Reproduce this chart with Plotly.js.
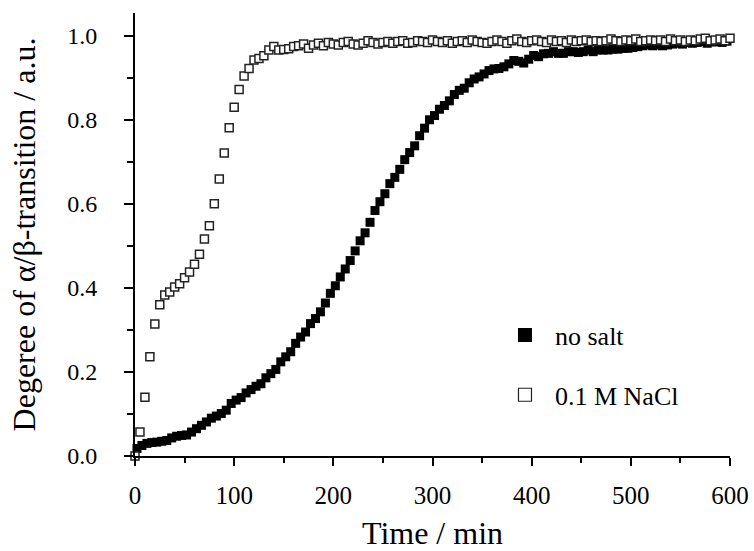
<!DOCTYPE html>
<html>
<head>
<meta charset="utf-8">
<script src="https://cdn.plot.ly/plotly-3.0.1.min.js"></script>
<style>html,body{margin:0;padding:0;background:#fff;}#chart{width:754px;height:551px;}</style>
</head>
<body>
<div id="chart"></div>
<script>
// Time (min) for the "no salt" series
const timeNoSalt = [
  2, 7, 12, 17, 22, 27, 32, 37, 42, 47,
  52, 57, 62, 67, 72, 77, 82, 87, 92, 97,
  102, 107, 112, 117, 122, 127, 132, 137, 142, 147,
  152, 157, 162, 167, 172, 177, 182, 187, 192, 197,
  202, 207, 212, 217, 222, 227, 232, 237, 242, 247,
  252, 257, 262, 267, 272, 277, 282, 287, 292, 297,
  302, 307, 312, 317, 322, 327, 332, 337, 342, 347,
  352, 357, 362, 367, 372, 377, 382, 387, 392, 397,
  402, 407, 412, 417, 422, 427, 432, 437, 442, 447,
  452, 457, 462, 467, 472, 477, 482, 487, 492, 497,
  502, 507, 512, 517, 522, 527, 532, 537, 542, 547,
  552, 557, 562, 567, 572, 577, 582, 587, 592, 597,
  602
];
// Degree of transition, "no salt"
const degreeNoSalt = [
  0.018, 0.025, 0.030, 0.032, 0.033, 0.035, 0.037, 0.043, 0.047, 0.049,
  0.050, 0.057, 0.065, 0.073, 0.081, 0.090, 0.095, 0.101, 0.109, 0.125,
  0.133, 0.139, 0.150, 0.158, 0.166, 0.172, 0.186, 0.196, 0.206, 0.224,
  0.236, 0.248, 0.268, 0.283, 0.295, 0.315, 0.327, 0.343, 0.364, 0.387,
  0.405, 0.426, 0.445, 0.465, 0.488, 0.512, 0.531, 0.556, 0.584, 0.605,
  0.624, 0.648, 0.663, 0.682, 0.705, 0.722, 0.738, 0.762, 0.780, 0.800,
  0.810, 0.825, 0.834, 0.845, 0.860, 0.870, 0.875, 0.888, 0.897, 0.902,
  0.909, 0.917, 0.921, 0.922, 0.926, 0.933, 0.941, 0.939, 0.935, 0.944,
  0.953, 0.950, 0.957, 0.958, 0.962, 0.958, 0.958, 0.962, 0.962, 0.960,
  0.962, 0.966, 0.962, 0.966, 0.966, 0.966, 0.968, 0.968, 0.970, 0.970,
  0.972, 0.974, 0.976, 0.978, 0.976, 0.978, 0.976, 0.978, 0.980, 0.982,
  0.980, 0.984, 0.982, 0.984, 0.986, 0.982, 0.985, 0.986, 0.984, 0.987,
  0.986
];
// Time (min) for the "0.1 M NaCl" series
const timeNaCl = [
  0, 5, 10, 15, 20, 25, 30, 35, 40, 45,
  50, 55, 60, 65, 70, 75, 80, 85, 90, 95,
  100, 105, 110, 115, 120, 125, 130, 135, 140, 145,
  150, 155, 160, 165, 170, 175, 180, 185, 190, 195,
  200, 205, 210, 215, 220, 225, 230, 235, 240, 245,
  250, 255, 260, 265, 270, 275, 280, 285, 290, 295,
  300, 305, 310, 315, 320, 325, 330, 335, 340, 345,
  350, 355, 360, 365, 370, 375, 380, 385, 390, 395,
  400, 405, 410, 415, 420, 425, 430, 435, 440, 445,
  450, 455, 460, 465, 470, 475, 480, 485, 490, 495,
  500, 505, 510, 515, 520, 525, 530, 535, 540, 545,
  550, 555, 560, 565, 570, 575, 580, 585, 590, 595,
  600, 605
];
// Degree of transition, "0.1 M NaCl"
const degreeNaCl = [
  0.000, 0.057, 0.140, 0.236, 0.314, 0.360, 0.383, 0.390, 0.402, 0.410,
  0.424, 0.438, 0.456, 0.480, 0.516, 0.548, 0.600, 0.659, 0.721, 0.781,
  0.830, 0.872, 0.904, 0.922, 0.942, 0.946, 0.952, 0.966, 0.974, 0.966,
  0.967, 0.969, 0.974, 0.976, 0.980, 0.970, 0.978, 0.982, 0.976, 0.984,
  0.980, 0.978, 0.984, 0.986, 0.980, 0.978, 0.982, 0.988, 0.984, 0.980,
  0.984, 0.986, 0.982, 0.986, 0.988, 0.982, 0.984, 0.988, 0.986, 0.984,
  0.990, 0.986, 0.984, 0.988, 0.982, 0.986, 0.988, 0.984, 0.990, 0.986,
  0.984, 0.982, 0.986, 0.990, 0.986, 0.982, 0.988, 0.992, 0.986, 0.984,
  0.988, 0.990, 0.986, 0.984, 0.990, 0.986, 0.988, 0.984, 0.990, 0.986,
  0.988, 0.990, 0.986, 0.988, 0.986, 0.988, 0.992, 0.988, 0.986, 0.990,
  0.988, 0.992, 0.986, 0.988, 0.990, 0.988, 0.990, 0.986, 0.992, 0.988,
  0.990, 0.986, 0.990, 0.988, 0.992, 0.994, 0.988, 0.990, 0.992, 0.988,
  0.994, 0.999
];
const seriesNames = ["no salt", "0.1 M NaCl"];
const xTickVals = [0, 100, 200, 300, 400, 500, 600];
const yTickVals = [0.0, 0.2, 0.4, 0.6, 0.8, 1.0];
const yTickText = ["0.0", "0.2", "0.4", "0.6", "0.8", "1.0"];

const fontName = "Liberation Serif";

const traces = [
  {x: timeNoSalt, y: degreeNoSalt, type: "scatter", mode: "markers",
   marker: {symbol: "square", size: 9, color: "#000", line: {width: 0}},
   showlegend: false, cliponaxis: false},
  {x: timeNaCl, y: degreeNaCl, type: "scatter", mode: "markers",
   marker: {symbol: "square", size: 8, color: "#fff", line: {width: 1.5, color: "#222"}},
   showlegend: false, cliponaxis: false},
  // legend entries (larger symbols as in the reference)
  {x: [null], y: [null], type: "scatter", mode: "markers", name: seriesNames[0],
   marker: {symbol: "square", size: 14, color: "#000", line: {width: 0}}, legend: "legend"},
  {x: [null], y: [null], type: "scatter", mode: "markers", name: seriesNames[1],
   marker: {symbol: "square", size: 13, color: "#fff", line: {width: 1.2, color: "#222"}}, legend: "legend2"}
];

const layout = {
  width: 754, height: 551,
  margin: {l: 135, r: 24, t: 13, b: 95},
  paper_bgcolor: "#fff", plot_bgcolor: "#fff",
  font: {family: fontName, color: "#000"},
  showlegend: true,
  legend: {x: 0.605, y: 0.273, xanchor: "left", yanchor: "middle", bgcolor: "rgba(0,0,0,0)",
    font: {family: fontName, size: 26, color: "#000"}, itemwidth: 50},
  legend2: {x: 0.605, y: 0.138, xanchor: "left", yanchor: "middle", bgcolor: "rgba(0,0,0,0)",
    font: {family: fontName, size: 26, color: "#000"}, itemwidth: 50},
  xaxis: {
    range: [0, 600], showgrid: false, zeroline: false,
    showline: true, linecolor: "#000", linewidth: 2,
    tickmode: "array", tickvals: xTickVals,
    ticks: "outside", ticklen: 8, tickwidth: 2, tickcolor: "#000",
    minor: {dtick: 50, ticks: "outside", ticklen: 5, tickwidth: 2, tickcolor: "#000", showgrid: false},
    tickfont: {family: fontName, size: 25, color: "#000"},
    ticklabelstandoff: 8,
    title: {text: "Time / min", font: {family: fontName, size: 32, color: "#000"}, standoff: 22}
  },
  yaxis: {
    range: [0, 1.054], showgrid: false, zeroline: false,
    showline: true, linecolor: "#000", linewidth: 2,
    tickmode: "array", tickvals: yTickVals, ticktext: yTickText,
    ticks: "outside", ticklen: 9, tickwidth: 2, tickcolor: "#000",
    minor: {dtick: 0.1, ticks: "outside", ticklen: 6, tickwidth: 2, tickcolor: "#000", showgrid: false},
    tickfont: {family: fontName, size: 24, color: "#000"},
    ticklabelstandoff: 22,
    title: {text: "Degeree of α/β-transition / a.u.", font: {family: fontName, size: 32, color: "#000"}, standoff: 22}
  }
};

Plotly.newPlot("chart", traces, layout, {displayModeBar: false, staticPlot: true});
</script>
</body>
</html>
